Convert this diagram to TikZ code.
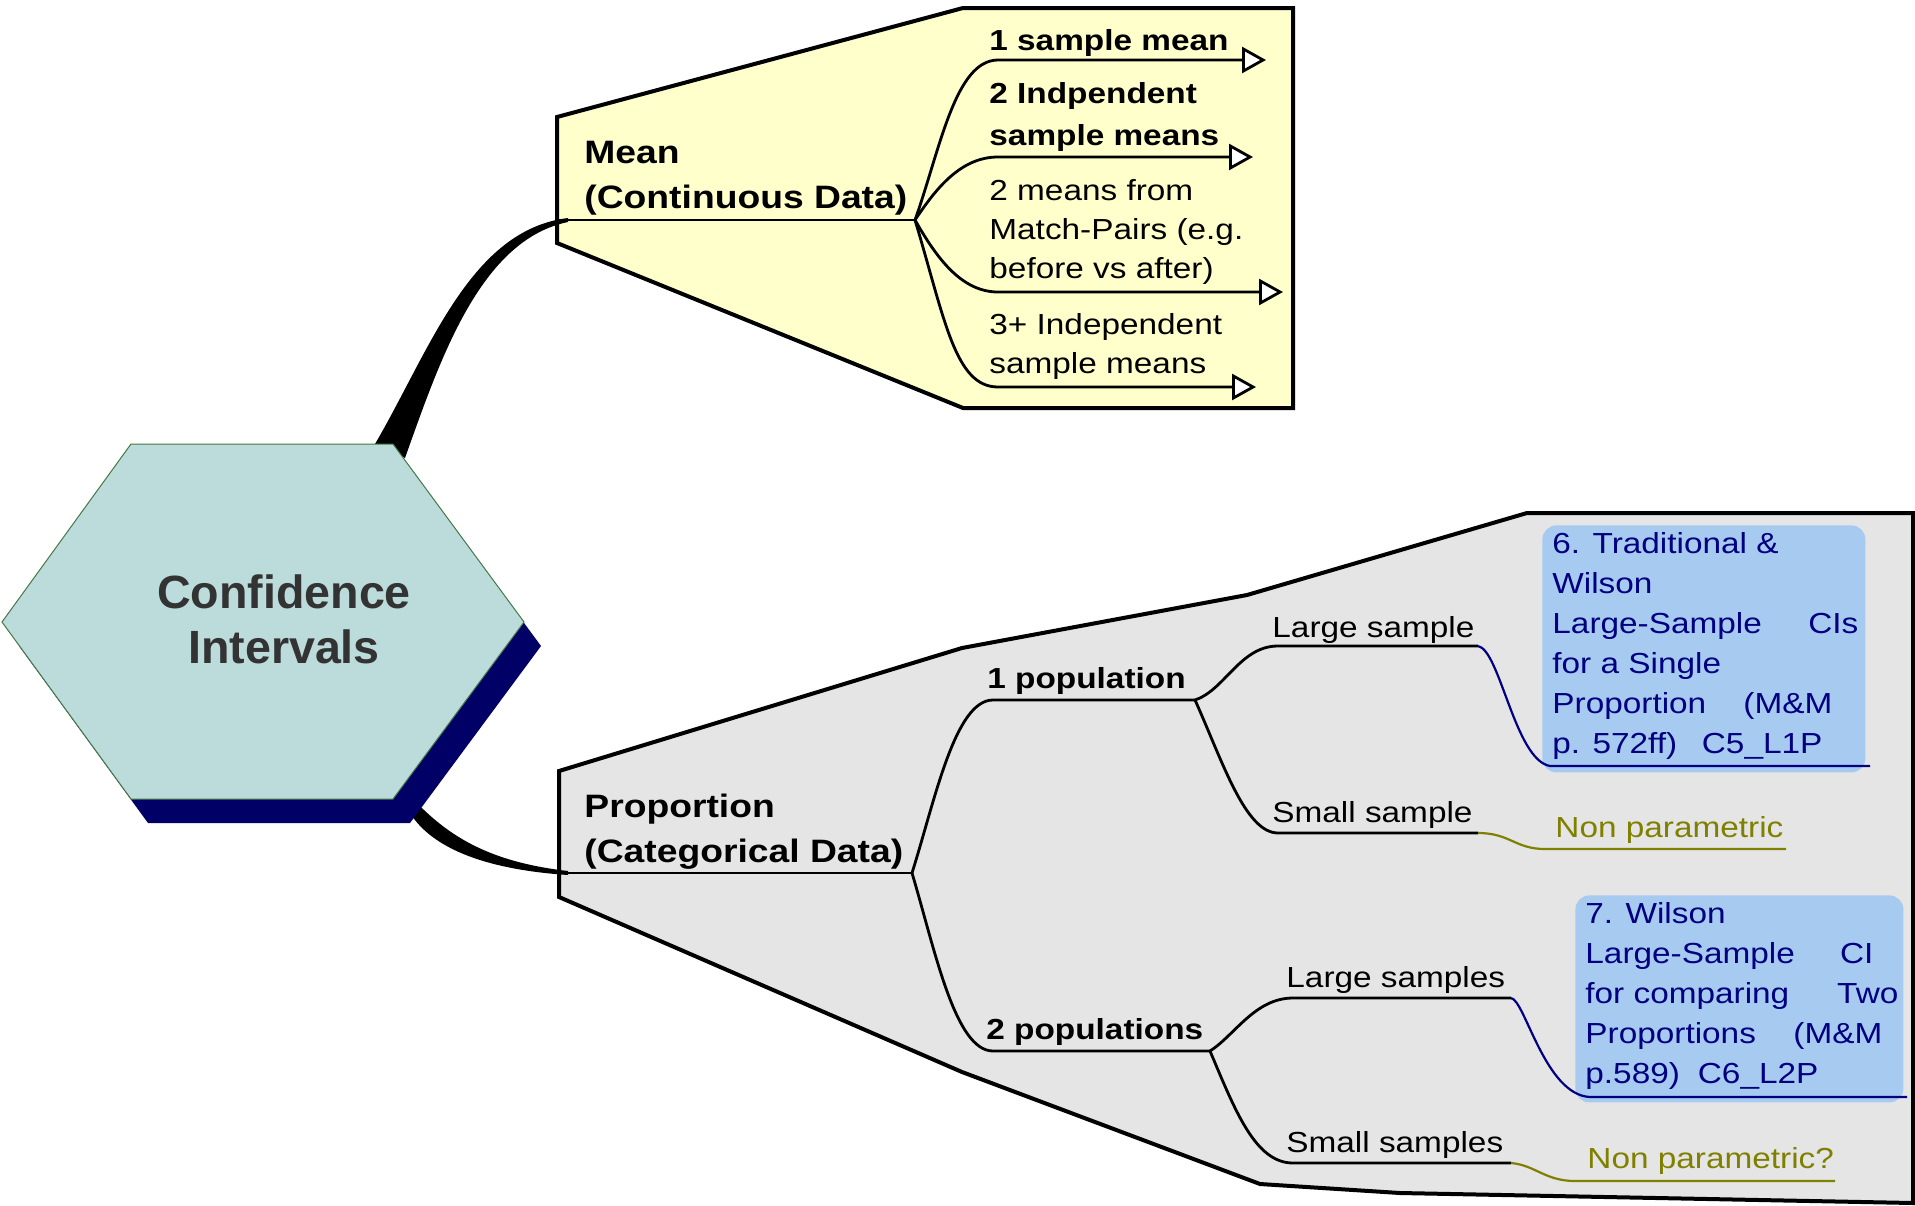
\documentclass[tikz,border=0pt]{standalone}
\usepackage{fontspec}
\setmainfont{Liberation Sans}
\newfontfamily\mapfont[FakeStretch=1.15]{Liberation Sans}
\usetikzlibrary{arrows.meta}
\definecolor{hexcolor}{RGB}{188,219,219}
\definecolor{hexedge}{RGB}{70,120,70}
\definecolor{shadowcolor}{RGB}{0,0,102}
\definecolor{meancolor}{RGB}{255,255,204}
\definecolor{propcolor}{RGB}{229,229,229}
\definecolor{notecolor}{RGB}{166,202,240}
\definecolor{navycolor}{RGB}{0,0,128}
\definecolor{olivecolor}{RGB}{128,128,0}
\definecolor{rootcolor}{RGB}{51,51,51}

\begin{document}
\begin{tikzpicture}[
    x=0.5pt, y=-0.5pt,
    frame/.style={draw=black, line width=2pt, line join=miter},
    root/.style={font=\bfseries\fontsize{23.3}{27.5}\selectfont, text=rootcolor, align=center, inner sep=0pt, anchor=base},
    topic/.style={font=\mapfont\bfseries\fontsize{16.2}{22.5}\selectfont, align=left, inner sep=0pt, anchor=base west},
    subtopic/.style={font=\mapfont\bfseries\fontsize{14.5}{21}\selectfont, align=left, inner sep=0pt, anchor=base west},
    leaf/.style={font=\mapfont\fontsize{14.5}{19.5}\selectfont, align=left, inner sep=0pt, anchor=base west},
    note/.style={font=\mapfont\fontsize{14.5}{20}\selectfont, text=navycolor, align=left, inner sep=0pt, anchor=base west},
    hint/.style={font=\mapfont\fontsize{14.5}{20}\selectfont, text=olivecolor, inner sep=0pt, anchor=base west},
    notebox/.style={fill=notecolor, rounded corners=7pt, inner sep=0pt, anchor=north west},
    twig/.style={line width=1.4pt},
    arrowed/.style={-{Triangle[length=12pt, width=13pt, fill=white]}},
    noteline/.style={line width=1.1pt, navycolor},
    hintline/.style={line width=1.1pt, olivecolor}
]
    \useasboundingbox (0,0) rectangle (1915,1205);

    % topic frames
    \filldraw[frame, fill=meancolor] (557,117) -- (963,8) -- (1293,8) -- (1293,408) -- (963,408) -- (557,243) -- cycle;
    \filldraw[frame, fill=propcolor] (559,771) -- (962,648) -- (1247,595) -- (1527,513) -- (1913,513) -- (1913,1203)
        -- (1400,1193) -- (1260,1184) -- (962,1072) -- (559,897) -- cycle;

    % tapered links from the centre
    \fill (375,444) .. controls (430,350) and (470,230) .. (568,218) -- (568,222)
        .. controls (480,240) and (440,360) .. (405,458) -- cycle;
    \fill (403,788) .. controls (440,830) and (480,861) .. (568,871) -- (568,875)
        .. controls (478,869) and (432,845) .. (412,816) -- cycle;

    % centre hexagon with its shadow
    \fill[shadowcolor] (19,646) -- (148,468) -- (410,468) -- (541,646) -- (410,823) -- (148,823) -- cycle;
    \filldraw[fill=hexcolor, draw=hexedge, line width=0.5pt]
        (2,622) -- (131,444) -- (393,444) -- (524,622) -- (393,799) -- (131,799) -- cycle;
    \node[root] (ci) at (284,663) {Confidence\\Intervals};

    % Mean branch
    \coordinate (meanroot) at (558,220);
    \coordinate (meanfork) at (915,220);
    \coordinate (b1) at (998,60);   \coordinate (b1end) at (1266,60);
    \coordinate (b2) at (998,157);  \coordinate (b2end) at (1253,157);
    \coordinate (b3) at (998,292);  \coordinate (b3end) at (1283,292);
    \coordinate (b4) at (998,387);  \coordinate (b4end) at (1256,387);

    \node[topic] (mean) at (584,208) {Mean\\(Continuous Data)};
    \node[subtopic] (one) at (989,50) {1 sample mean};
    \node[subtopic] (two) at (989,145) {2 Indpendent\\sample means};
    \node[leaf] (paired) at (989,278) {2 means from\\Match-Pairs (e.g.\\before vs after)};
    \node[leaf] (three) at (989,373) {3+ Independent\\sample means};

    \draw[twig] (meanroot) -- (meanfork);
    \draw[twig, arrowed] (meanfork) .. controls (940,150) and (955,60) .. (b1) -- (b1end);
    \draw[twig, arrowed] (meanfork) .. controls (935,190) and (960,157) .. (b2) -- (b2end);
    \draw[twig, arrowed] (meanfork) .. controls (935,255) and (960,292) .. (b3) -- (b3end);
    \draw[twig, arrowed] (meanfork) .. controls (945,320) and (955,387) .. (b4) -- (b4end);

    % Proportion branch
    \coordinate (proproot) at (559,873);
    \coordinate (propfork) at (912,873);
    \coordinate (pop1) at (993,700);    \coordinate (pop1fork) at (1195,700);
    \coordinate (pop2) at (993,1051);   \coordinate (pop2fork) at (1210,1051);
    \coordinate (lg1) at (1278,646);    \coordinate (lg1end) at (1478,646);
    \coordinate (sm1) at (1278,833);    \coordinate (sm1end) at (1478,833);
    \coordinate (lg2) at (1293,998);    \coordinate (lg2end) at (1511,998);
    \coordinate (sm2) at (1293,1163);   \coordinate (sm2end) at (1511,1163);

    \node[topic] (prop) at (584,862) {Proportion\\(Categorical Data)};
    \node[subtopic] (onepop) at (987,688) {1 population};
    \node[subtopic] (twopop) at (986,1039) {2 populations};
    \node[leaf] (large1) at (1272,637) {Large sample};
    \node[leaf] (small1) at (1272,822) {Small sample};
    \node[leaf] (large2) at (1286,987) {Large samples};
    \node[leaf] (small2) at (1286,1152) {Small samples};

    \draw[twig] (proproot) -- (propfork);
    \draw[twig] (propfork) .. controls (935,800) and (955,700) .. (pop1) -- (pop1fork);
    \draw[twig] (propfork) .. controls (935,950) and (955,1051) .. (pop2) -- (pop2fork);
    \draw[twig] (pop1fork) .. controls (1225,690) and (1240,646) .. (lg1) -- (lg1end);
    \draw[twig] (pop1fork) .. controls (1222,760) and (1245,833) .. (sm1) -- (sm1end);
    \draw[twig] (pop2fork) .. controls (1235,1035) and (1255,998) .. (lg2) -- (lg2end);
    \draw[twig] (pop2fork) .. controls (1235,1110) and (1255,1163) .. (sm2) -- (sm2end);

    % notes on the proportion leaves
    \node[notebox, minimum width=161.5pt, minimum height=123.5pt] (box1) at (1542,525) {};
    \node[notebox, minimum width=164pt, minimum height=103.5pt] (box2) at (1575,895) {};
    \node[note] (wilson1) at (1552,753) {6. Traditional \&\\Wilson\\\hbox to 153pt{Large-Sample\hfill CIs}\\for a Single\\\hbox to 140pt{Proportion\hfill(M\&M}\\\hbox to 135pt{p. 572ff)\hfill C5\_L1P}};
    \node[note] (wilson2) at (1585,1083) {7. Wilson\\\hbox to 144pt{Large-Sample\hfill CI}\\\hbox to 156.5pt{for comparing\hfill Two}\\\hbox to 148.5pt{Proportions\hfill(M\&M}\\\hbox to 116.5pt{p.589)\hfill C6\_L2P}};
    \node[hint] (np1) at (1555,837) {Non parametric};
    \node[hint] (np2) at (1587,1168) {Non parametric?};

    \coordinate (ul1) at (1550,766);  \coordinate (ul1end) at (1870,766);
    \coordinate (ul2) at (1590,1097); \coordinate (ul2end) at (1907,1097);
    \coordinate (hl1) at (1545,849);  \coordinate (hl1end) at (1786,849);
    \coordinate (hl2) at (1575,1181); \coordinate (hl2end) at (1835,1181);

    \draw[noteline] (lg1end) .. controls (1500,650) and (1515,760) .. (ul1) -- (ul1end);
    \draw[noteline] (lg2end) .. controls (1525,1000) and (1545,1095) .. (ul2) -- (ul2end);
    \draw[hintline] (sm1end) .. controls (1510,833) and (1515,849) .. (hl1) -- (hl1end);
    \draw[hintline] (sm2end) .. controls (1535,1165) and (1545,1181) .. (hl2) -- (hl2end);
\end{tikzpicture}
\end{document}
